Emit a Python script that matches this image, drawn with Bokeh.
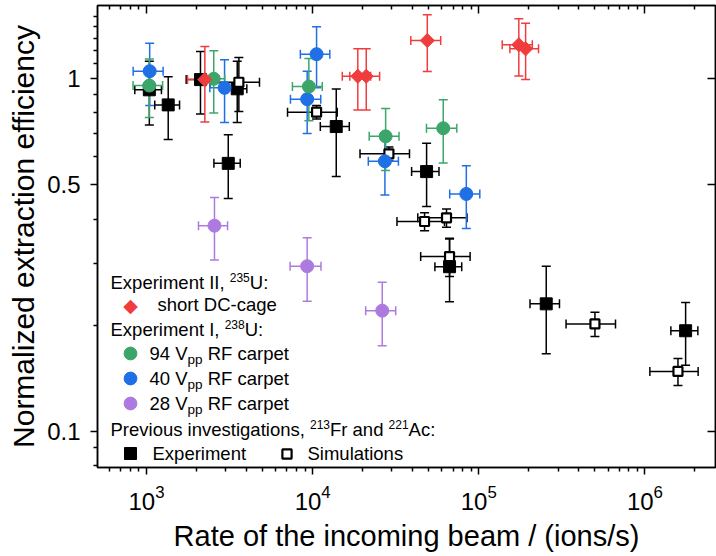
import math
from bokeh.plotting import figure
from bokeh.models import (ColumnDataSource, Whisker, TeeHead, Label, Legend, LegendItem,
                          FixedTicker, NumeralTickFormatter, LogAxis, Range1d, LogTickFormatter)
from bokeh.core.properties import value
from bokeh.embed import file_html
from bokeh.resources import INLINE

# ---------------- data ----------------
green_x = [1040, 2540, 9490, 27500, 61100]
green_y = [0.955, 0.998, 0.949, 0.686, 0.723]
green_xerr = [210, 415, 1935, 5600, 12650]
green_yerr = [0.18, 0.20, 0.19, 0.137, 0.147]

blue_x = [1045, 2950, 10560, 9270, 27230, 84140]
blue_y = [1.049, 0.941, 1.172, 0.874, 0.583, 0.471]
blue_xerr = [214, 545, 2125, 1920, 5600, 17300]
blue_yerr = [0.21, 0.19, 0.23, 0.175, 0.115, 0.095]

purple_x = [2565, 9270, 26240]
purple_y = [0.383, 0.294, 0.220]
purple_xerr = [510, 1955, 5380]
purple_yerr = [0.077, 0.06, 0.045]

red_x = [2245, 18700, 21020, 48980, 174200, 191400]
red_y = [0.993, 1.015, 1.015, 1.281, 1.246, 1.214]
red_xerr = [480, 3620, 4280, 10000, 35800, 37500]
red_yerr = [0.24, 0.20, 0.20, 0.235, 0.23, 0.22]

exp_x = [1040, 1351, 2113, 3516, 3105, 13870, 48520, 66690, 254700, 1758000]
exp_y = [0.929, 0.842, 0.993, 0.935, 0.575, 0.731, 0.545, 0.293, 0.230, 0.193]
exp_xerr = [190, 230, 380, 500, 560, 2750, 9100, 12250, 51300, 325000]
exp_yerr = [0.19, 0.17, 0.20, 0.185, 0.118, 0.203, 0.111, 0.06, 0.064, 0.039]

sim_x = [3597, 10560, 28780, 47180, 63950, 66690, 500200, 1581000]
sim_y = [0.976, 0.803, 0.612, 0.3935, 0.403, 0.313, 0.2018, 0.148]
sim_xerr = [1190, 3500, 9500, 15000, 21000, 22000, 165000, 510000]
sim_yerr = [0.17, 0.035, 0.028, 0.023, 0.024, 0.038, 0.016, 0.013]

x_major = [1e3, 1e4, 1e5, 1e6]
y_major = [0.1, 0.5, 1]
y_minor = [0.08, 0.09, 0.2, 0.3, 0.4, 0.6, 0.7, 0.8, 0.9, 1.1, 1.2, 1.3, 1.4, 1.5]

GREEN = "#3ca66a"
BLUE = "#1f6fe5"
PURPLE = "#ad7be0"
RED = "#f03c3c"
BLACK = "#000000"
FONT = "Liberation Sans"

p = figure(width=716, height=556, x_axis_type="log", y_axis_type="log",
           x_range=Range1d(507, 2.66e6), y_range=Range1d(0.0791, 1.61),
           output_backend="svg", toolbar_location=None,
           min_border_left=97, min_border_right=1, min_border_top=5, min_border_bottom=89)
p.xgrid.visible = False
p.ygrid.visible = False
p.outline_line_color = "black"
p.outline_line_width = 1.5
p.background_fill_color = "white"
p.border_fill_color = "white"

x_minor = [k * 10 ** n for n in range(2, 7) for k in range(2, 10)]
xt = FixedTicker(ticks=x_major, minor_ticks=x_minor)
yt = FixedTicker(ticks=y_major, minor_ticks=y_minor)

for ax in (p.xaxis[0], p.yaxis[0]):
    ax.axis_line_width = 1.5
    ax.major_tick_line_width = 1.5
    ax.minor_tick_line_width = 1.5
    ax.major_tick_in = 0
    ax.major_tick_out = 7
    ax.minor_tick_in = 0
    ax.minor_tick_out = 4
    ax.major_label_text_font = FONT
    ax.major_label_text_font_size = "24px"
    ax.major_label_text_color = "black"
    ax.axis_label_text_font = FONT
    ax.axis_label_text_font_style = "normal"
    ax.axis_label_text_color = "black"

p.xaxis[0].ticker = xt
p.xaxis[0].formatter = LogTickFormatter()
p.xaxis[0].major_label_standoff = 10
p.xaxis[0].axis_label = "Rate of the incoming beam / (ions/s)"
p.xaxis[0].axis_label_text_font_size = "29px"
p.xaxis[0].axis_label_standoff = 7

p.yaxis[0].ticker = yt
p.yaxis[0].formatter = NumeralTickFormatter(format="0.[0]")
p.yaxis[0].major_label_standoff = 10
p.yaxis[0].axis_label = "Normalized extraction efficiency"
p.yaxis[0].axis_label_text_font_size = "30px"
p.yaxis[0].axis_label_standoff = 4

top = LogAxis(ticker=xt, major_label_text_font_size="1px", major_label_text_alpha=0,
              major_label_standoff=0,
              major_tick_in=8, major_tick_out=0, minor_tick_in=4, minor_tick_out=0,
              axis_line_width=1.5, major_tick_line_width=1.5, minor_tick_line_width=1.5)
p.add_layout(top, "above")
right = LogAxis(ticker=FixedTicker(ticks=y_major, minor_ticks=[]),
                formatter=NumeralTickFormatter(format="0.[0]"),
                major_label_text_font_size="1px", major_label_text_alpha=0,
                major_label_standoff=0,
                major_tick_in=8, major_tick_out=0, minor_tick_in=0, minor_tick_out=0,
                axis_line_width=1.5, major_tick_line_width=1.5)
p.add_layout(right, "right")


def series(xs, ys, xe, ye, color, marker, size, fill=None, angle=0.0, lw=1.0):
    src = ColumnDataSource(dict(
        x=xs, y=ys,
        xl=[a - b for a, b in zip(xs, xe)], xu=[a + b for a, b in zip(xs, xe)],
        yl=[a - b for a, b in zip(ys, ye)], yu=[a + b for a, b in zip(ys, ye)]))
    for dim, base, lo, up in (("height", "x", "yl", "yu"), ("width", "y", "xl", "xu")):
        w = Whisker(source=src, base=base, lower=lo, upper=up, dimension=dim,
                    line_color=color, line_width=1.5, level="underlay",
                    lower_head=TeeHead(size=9, line_color=color, line_width=1.5),
                    upper_head=TeeHead(size=9, line_color=color, line_width=1.5))
        p.add_layout(w)
    r = p.scatter("x", "y", source=src, marker=marker, size=size,
                  fill_color=fill if fill else color, line_color=color,
                  line_width=lw, angle=angle)
    return r


r_exp = series(exp_x, exp_y, exp_xerr, exp_yerr, BLACK, "square", 12)
r_sim = series(sim_x, sim_y, sim_xerr, sim_yerr, BLACK, "square", 9, fill="white", lw=2.2)
r_pur = series(purple_x, purple_y, purple_xerr, purple_yerr, PURPLE, "circle", 13)
r_blu = series(blue_x, blue_y, blue_xerr, blue_yerr, BLUE, "circle", 13)
r_grn = series(green_x, green_y, green_xerr, green_yerr, GREEN, "circle", 13)
r_red = series(red_x, red_y, red_xerr, red_yerr, RED, "square", 10, angle=math.pi / 4)

# ---------------- legend (screen units, relative to the frame) ----------------
MAIN = 18.5
SUP = 12.0
SUB = 13.5
AW = {' ': 278, ',': 278, ':': 278, '-': 333, 'E': 667, 'I': 278, 'P': 667, 'F': 611,
      'U': 722, 'A': 667, 'V': 667, 'R': 722, 'D': 722, 'C': 722,
      'x': 500, 'p': 556, 'e': 556, 'r': 333, 'i': 222, 'm': 833, 'n': 556, 't': 278,
      'v': 500, 'o': 556, 'u': 556, 's': 500, 'g': 556, 'a': 556, 'd': 556, 'c': 500,
      'h': 556, 'l': 222}
for d in "0123456789":
    AW[d] = 556


def tw(s, size):
    return sum(AW.get(ch, 556) for ch in s) * size / 1000.0


def txt(fx, fy, s, size):
    p.add_layout(Label(x=fx, y=fy, x_units="screen", y_units="screen", text=s,
                       text_font=FONT, text_font_size=f"{size}px", text_color="black",
                       text_baseline="middle", text_align="left"))


def runs(fx, fy, parts):
    x = fx
    for s, kind in parts:
        size = SUP if kind == "sup" else SUB if kind == "sub" else MAIN
        dy = 5 if kind == "sup" else -6 if kind == "sub" else 0
        lead = len(s) - len(s.lstrip(" "))
        x += tw(" " * lead, size)
        core = s.lstrip(" ")
        txt(x, fy + dy, core, size)
        x += tw(core, size)


def mark(r, fx, fy, box):
    leg = Legend(items=[LegendItem(label=value(" "), renderers=[r])],
                 location=(fx - box / 2, fy - box / 2), glyph_width=box, glyph_height=box,
                 padding=0, margin=0, spacing=0, label_standoff=0,
                 label_text_font_size="8px",
                 border_line_alpha=0, background_fill_alpha=0)
    p.add_layout(leg, "center")


runs(13, 185, [("Experiment II, ", "n"), ("235", "sup"), ("U:", "n")])
p.add_layout(Label(x=33, y=163, x_units="screen", y_units="screen", text="◆",
                   text_font="DejaVu Sans", text_font_size="19px", text_color=RED,
                   text_baseline="middle", text_align="center"))
runs(60, 163, [("short DC-cage", "n")])
runs(13, 138, [("Experiment I, ", "n"), ("238", "sup"), ("U:", "n")])
for fy, r, v in ((114, r_grn, "94"), (89, r_blu, "40"), (64, r_pur, "28")):
    mark(r, 33, fy, 32)
    runs(52, fy, [(v + " V", "n"), ("pp", "sub"), (" RF carpet", "n")])
runs(13, 38, [("Previous investigations, ", "n"), ("213", "sup"), ("Fr and ", "n"),
              ("221", "sup"), ("Ac:", "n")])
mark(r_exp, 33, 14, 30)
runs(55, 14, [("Experiment", "n")])
mark(r_sim, 189, 14, 23)
runs(210, 14, [("Simulations", "n")])

open("out.html", "w").write(file_html(p, INLINE))
